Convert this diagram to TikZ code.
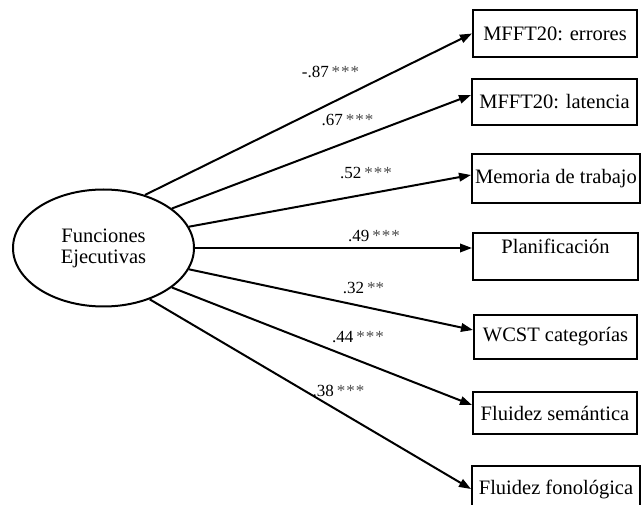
\documentclass[tikz,border=0pt]{standalone}
\usepackage{fontspec}
\setmainfont{Liberation Serif}
\usetikzlibrary{shapes.geometric,arrows.meta,calc}

\newcommand{\sig}[1]{\textcolor{black!70}{#1}}

\begin{document}
\begin{tikzpicture}[x=1pt,y=1pt,yscale=-1,xscale=1,
  factor/.style={draw,line width=2pt,ellipse,minimum width=181pt,minimum height=117pt,inner sep=0pt,align=center,font=\fontsize{20.5}{21}\selectfont},
  indic/.style={draw,line width=2pt,inner sep=1pt,font=\fontsize{20.5}{24}\selectfont},
  coef/.style={inner sep=0pt,font=\fontsize{17}{20}\selectfont},
  load/.style={line width=2pt,-{Triangle[length=12pt,width=8.5pt]}}]
\useasboundingbox (0,0) rectangle (641,505);

%Shape: Ellipse
\node [factor] (fe) at (103.5,248) {Funciones\\Ejecutivas};

%Shape: Rectangle
\node [indic,minimum width=164pt,minimum height=47pt] (errores) at (555,33.5) {MFFT20: errores};
\node [indic,minimum width=165pt,minimum height=46pt] (latencia) at (554.5,102) {MFFT20: latencia};
\node [indic,minimum width=168pt,minimum height=49pt] (memoria) at (556,178.5) {Memoria de trabajo};
\node [indic,minimum width=165pt,text height=20pt,text depth=25pt] (planif) at (555.5,256.5) {Planificación};
\node [indic,minimum width=163pt,minimum height=44pt] (wcst) at (555.5,337) {WCST categorías};
\node [indic,minimum width=164pt,minimum height=42pt] (semant) at (555,413) {Fluidez semántica};
\node [indic,minimum width=168pt,minimum height=46pt] (fonol) at (556,489) {Fluidez fonológica};

%Straight Lines
\draw [load] (fe.52) -- (errores.west);
\draw [load] (fe.30) -- ($(latencia.west)+(0,-7)$);
\draw [load] (fe.14) -- ($(memoria.west)+(0,-3.5)$);
\draw [load] (fe.0) -- ($(planif.west)+(0,-8.5)$);
\draw [load] (fe.-14) -- ($(wcst.west)+(0,-7)$);
\draw [load] (fe.-30) -- ($(semant.west)+(0,-8)$);
\draw [load] (fe.-48) -- (fonol.west);

% Text Node
\node [coef] (c1) at (330.5,72) {-.87\,\sig{*\kern1pt*\kern1pt*}};
\node [coef] (c2) at (347.5,120) {.67\,\sig{*\kern1pt*\kern1pt*}};
\node [coef] (c3) at (366,173) {.52\,\sig{*\kern1pt*\kern1pt*}};
\node [coef] (c4) at (374,236) {.49\,\sig{*\kern1pt*\kern1pt*}};
\node [coef] (c5) at (363.5,288) {.32\,\sig{**}};
\node [coef] (c6) at (358,337) {.44\,\sig{*\kern1pt*\kern1pt*}};
\node [coef] (c7) at (338.5,391) {.38\,\sig{*\kern1pt*\kern1pt*}};

\end{tikzpicture}
\end{document}
